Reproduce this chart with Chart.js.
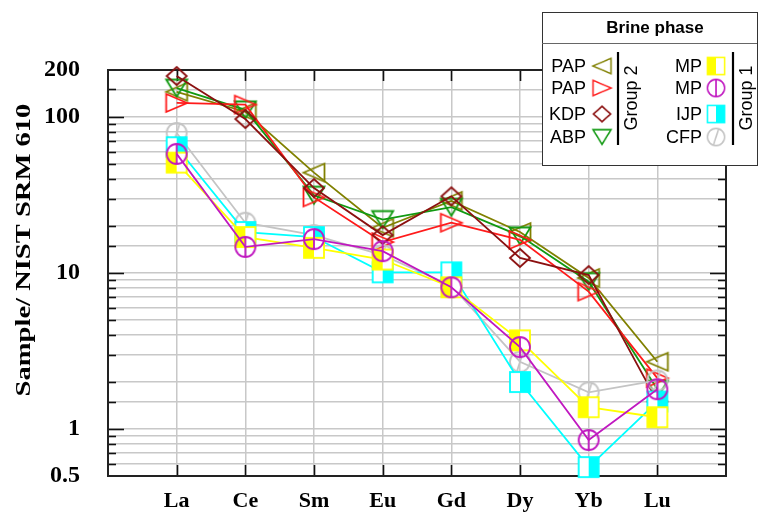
<!DOCTYPE html>
<html><head><meta charset="utf-8">
<script src="https://cdn.jsdelivr.net/npm/chart.js@4.4.0/dist/chart.umd.min.js"></script>
<style>html,body{margin:0;padding:0;background:#fff}#wrap{width:760px;height:512px;position:relative;overflow:hidden}</style>
</head><body><div id="wrap"><canvas id="c" width="760" height="512"></canvas></div>
<script>
const categories = ['La','Ce','Sm','Eu','Gd','Dy','Yb','Lu'];
const papOlive  = [145, 108, 44, 19.5, 29, 18.3, 9.3, 2.7];
const papRed    = [123, 120, 30.5, 15.8, 21, 16.3, 7.6, 2.12];
const kdp       = [183, 97, 35, 17.5, 31, 12.5, 9.7, 1.5];
const abp       = [153, 111, 31.5, 22, 26.4, 17.3, 8.8, 1.8];
const mpYellow  = [51, 17, 14.5, 12.2, 8.1, 3.7, 1.38, 1.19];
const mpMagenta = [58, 14.7, 16.5, 13.8, 8.1, 3.35, 0.85, 1.8];
const ijp       = [64, 18.3, 17, 10.1, 10.1, 2.0, 0.57, 1.5];
const cfp       = [79, 21, 17.5, 13, 8.3, 2.7, 1.72, 2.05];
const yTickLabels = [0.5, 1, 10, 100, 200];
const yTitle = 'Sample/ NIST SRM 610';
const group2Labels = ['PAP', 'PAP', 'KDP', 'ABP'];
const group1Labels = ['MP', 'MP', 'IJP', 'CFP'];

const C = {olive:'#808000', red:'#ff1a1a', maroon:'#8b1010', green:'#119911',
           yellow:'#ffff00', magenta:'#c018c0', cyan:'#00ffff', gray:'#c4c4c4'};

function marker(kind, color) {
  const S = 28, m = S / 2;
  const c = document.createElement('canvas'); c.width = S; c.height = S;
  const g = c.getContext('2d');
  g.lineWidth = 1.8; g.strokeStyle = color; g.fillStyle = color; g.lineJoin = 'miter';
  g.beginPath();
  if (kind === 'triLeft') { g.moveTo(m-10.5, m); g.lineTo(m+10.5, m-9); g.lineTo(m+10.5, m+9); g.closePath(); g.stroke(); }
  else if (kind === 'triRight') { g.moveTo(m+10.5, m); g.lineTo(m-10.5, m-9); g.lineTo(m-10.5, m+9); g.closePath(); g.stroke(); }
  else if (kind === 'triDown') { g.moveTo(m-10.5, m-8.5); g.lineTo(m+10.5, m-8.5); g.lineTo(m, m+8.5); g.closePath(); g.stroke(); }
  else if (kind === 'diamond') { g.moveTo(m, m-9); g.lineTo(m+10, m); g.lineTo(m, m+9); g.lineTo(m-10, m); g.closePath(); g.stroke(); }
  else if (kind === 'sqLeft' || kind === 'sqRight') {
    const h = 10;
    g.fillStyle = '#fff'; g.fillRect(m-h, m-h, 2*h, 2*h);
    g.fillStyle = color;
    if (kind === 'sqLeft') g.fillRect(m-h, m-h, h, 2*h); else g.fillRect(m, m-h, h, 2*h);
    g.strokeRect(m-h, m-h, 2*h, 2*h);
  }
  else if (kind === 'circV') { g.arc(m, m, 10, 0, Math.PI*2); g.moveTo(m, m-10); g.lineTo(m, m+10); g.stroke(); }
  else if (kind === 'circSlash') { g.arc(m, m, 10, 0, Math.PI*2); g.moveTo(m+3, m-9.5); g.lineTo(m-3, m+9.5); g.stroke(); }
  return c;
}

const mk = {
  olive: marker('triLeft', C.olive), red: marker('triRight', C.red),
  maroon: marker('diamond', C.maroon), green: marker('triDown', C.green),
  yellow: marker('sqLeft', C.yellow), magenta: marker('circV', C.magenta),
  cyan: marker('sqRight', C.cyan), gray: marker('circSlash', C.gray)
};

function pts(arr) { return arr.map((v, i) => ({x: i + 1, y: v})); }
function ds(label, arr, key) {
  return {label, data: pts(arr), borderColor: C[key], backgroundColor: C[key], borderWidth: 1.8,
    pointStyle: mk[key], pointRadius: 10, tension: 0, clip: false};
}

const datasets = [
  ds('MP', mpMagenta, 'magenta'),
  ds('MP', mpYellow, 'yellow'),
  ds('IJP', ijp, 'cyan'),
  ds('CFP', cfp, 'gray'),
  ds('KDP', kdp, 'maroon'),
  ds('PAP', papRed, 'red'),
  ds('ABP', abp, 'green'),
  ds('PAP', papOlive, 'olive')
];

const isMajor = v => Math.abs(Math.log10(v) - Math.round(Math.log10(v))) < 1e-6;

const frameTicks = {
  id: 'frameTicks',
  beforeDatasetsDraw(chart) {
    const {ctx, chartArea: a, scales: {x, y}} = chart;
    ctx.save(); ctx.strokeStyle = '#111'; ctx.lineWidth = 1.6;
    const line = (x1, y1, x2, y2) => { ctx.beginPath(); ctx.moveTo(x1, y1); ctx.lineTo(x2, y2); ctx.stroke(); };
    y.ticks.forEach(t => {
      if (t.value <= y.min * 1.0001 || t.value >= y.max * 0.9999) return;
      const py = Math.round(y.getPixelForValue(t.value)) + 0.5;
      const len = isMajor(t.value) ? 16 : 8;
      line(a.left, py, a.left + len, py); line(a.right - len, py, a.right, py);
    });
    x.ticks.forEach(t => {
      if (t.value < 1 || t.value > categories.length) return;
      const px = Math.round(x.getPixelForValue(t.value)) + 0.5;
      line(px, a.top, px, a.top + 11); line(px, a.bottom - 11, px, a.bottom);
    });
    ctx.lineWidth = 2; ctx.strokeStyle = '#222';
    ctx.strokeRect(a.left, a.top, a.width, a.height);
    // y axis title
    ctx.save();
    ctx.fillStyle = '#000';
    ctx.font = 'bold 21px "Liberation Serif", "Times New Roman", serif';
    ctx.textAlign = 'center'; ctx.textBaseline = 'middle';
    ctx.translate(25, 250); ctx.rotate(-Math.PI / 2); ctx.scale(1.36, 1);
    ctx.fillText(yTitle, 0, 0);
    ctx.restore();
    ctx.restore();
  }
};

const legendBox = {
  id: 'legendBox',
  afterDraw(chart) {
    const ctx = chart.ctx;
    const L = 542, T = 12, W = 215, H = 153;
    ctx.save();
    ctx.fillStyle = '#fff'; ctx.fillRect(L, T, W, H);
    ctx.strokeStyle = '#333'; ctx.lineWidth = 1; ctx.strokeRect(L + 0.5, T + 0.5, W, H);
    ctx.beginPath(); ctx.moveTo(L, 43.5); ctx.lineTo(L + W, 43.5); ctx.strokeStyle = '#666'; ctx.stroke();
    ctx.fillStyle = '#000'; ctx.textBaseline = 'middle';
    ctx.font = 'bold 17px "Liberation Sans", Arial, sans-serif'; ctx.textAlign = 'center';
    ctx.fillText('Brine phase', 655, 28);
    ctx.font = '18px "Liberation Sans", Arial, sans-serif';
    const rows = [66, 88, 114, 137];
    const g2 = [mk.olive, mk.red, mk.maroon, mk.green];
    const g1 = [mk.yellow, mk.magenta, mk.cyan, mk.gray];
    const sz = 24;
    rows.forEach((ry, i) => {
      ctx.textAlign = 'right';
      ctx.fillText(group2Labels[i], 586, ry + 1);
      ctx.drawImage(g2[i], 602 - sz / 2, ry - sz / 2, sz, sz);
      ctx.fillText(group1Labels[i], 702, ry + 1);
      ctx.drawImage(g1[i], 716 - sz / 2, ry - sz / 2, sz, sz);
    });
    ctx.strokeStyle = '#000'; ctx.lineWidth = 2.2;
    ctx.beginPath(); ctx.moveTo(618, 52); ctx.lineTo(618, 145); ctx.stroke();
    ctx.beginPath(); ctx.moveTo(733, 52); ctx.lineTo(733, 145); ctx.stroke();
    ctx.textAlign = 'center';
    [[632, 'Group 2'], [747, 'Group 1']].forEach(([gx, txt]) => {
      ctx.save(); ctx.translate(gx, 98); ctx.rotate(-Math.PI / 2); ctx.fillText(txt, 0, 0); ctx.restore();
    });
    ctx.restore();
  }
};

new Chart(document.getElementById('c'), {
  type: 'line',
  data: {datasets},
  options: {
    responsive: false, animation: false, devicePixelRatio: 1,
    layout: {padding: {top: 70, right: 34, left: 0, bottom: 0}},
    plugins: {legend: {display: false}, tooltip: {enabled: false}},
    scales: {
      x: {
        type: 'linear', min: 0, max: categories.length + 1,
        afterFit(s) { s.height = 36; },
        border: {display: false},
        grid: {drawTicks: false, lineWidth: 1.5,
          color: c => (c.tick && c.tick.value >= 1 && c.tick.value <= categories.length) ? '#c8c8c8' : 'rgba(0,0,0,0)'},
        ticks: {stepSize: 1, autoSkip: false, padding: 12, color: '#000',
          font: {family: '"Liberation Serif", "Times New Roman", serif', weight: 'bold', size: 22},
          callback: v => categories[v - 1] || ''}
      },
      y: {
        type: 'logarithmic', min: 0.5, max: 200,
        afterFit(s) { s.width = 108; },
        border: {display: false},
        grid: {drawTicks: true, tickLength: 24, tickColor: 'rgba(0,0,0,0)', lineWidth: 1.5, color: '#c8c8c8'},
        ticks: {autoSkip: false, padding: 4, color: '#000',
          font: {family: '"Liberation Serif", "Times New Roman", serif', weight: 'bold', size: 24},
          callback: v => { const m = yTickLabels.find(t => Math.abs(t - v) < 1e-9 * Math.max(1, t)); return m !== undefined ? String(m) : ''; }},
        title: {display: false}
      }
    }
  },
  plugins: [frameTicks, legendBox]
});
</script>
</body></html>
